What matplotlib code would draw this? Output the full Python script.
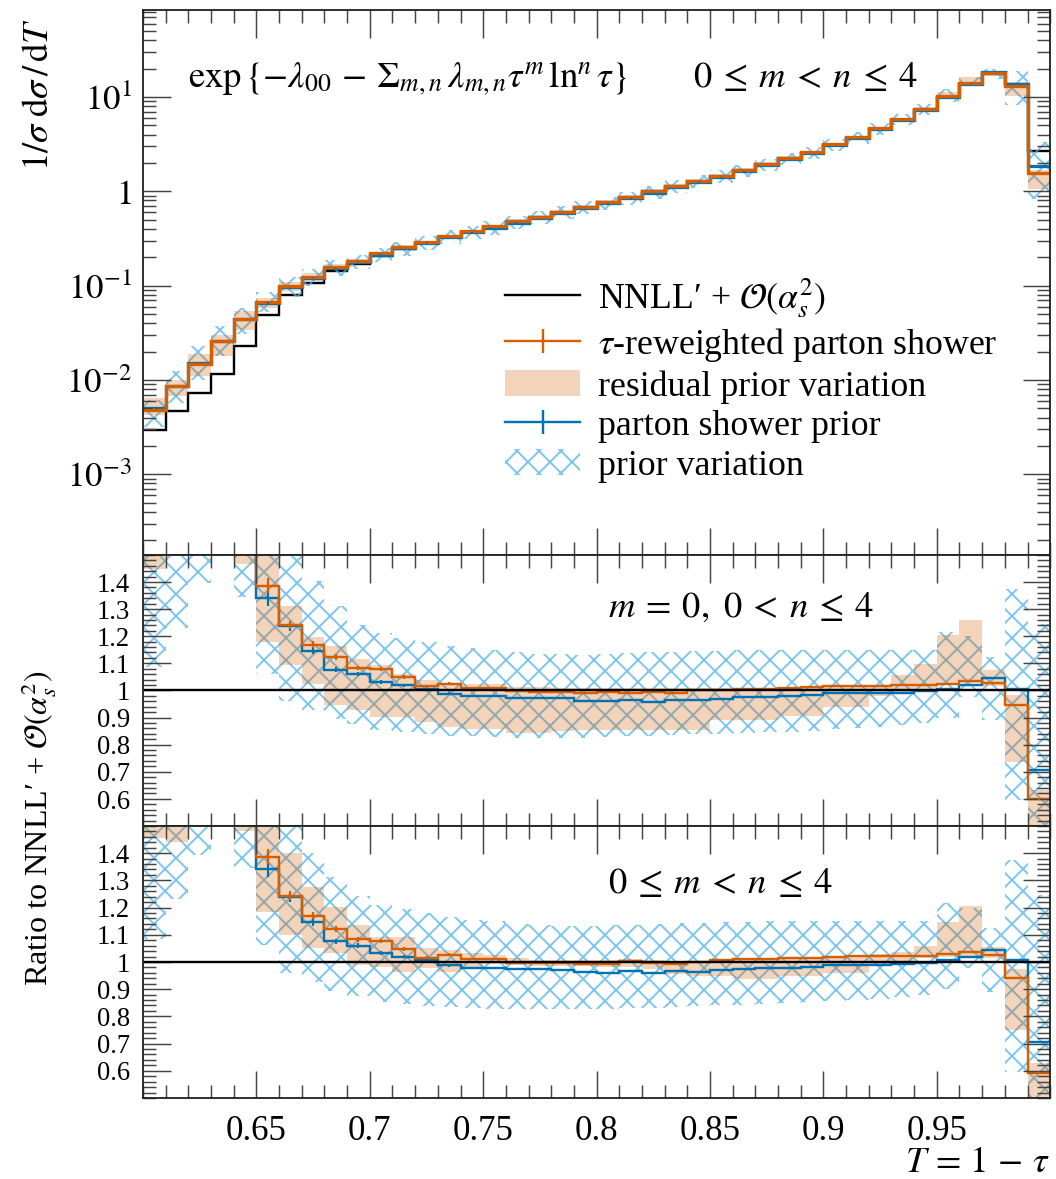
import numpy as np
import matplotlib
matplotlib.use("Agg")
import matplotlib.pyplot as plt
from matplotlib.lines import Line2D
from matplotlib.patches import Patch
from matplotlib.colors import to_rgba
from matplotlib.ticker import FixedLocator, MultipleLocator, LogLocator, NullFormatter

plt.rcParams['font.family'] = ['Liberation Serif', 'DejaVu Serif']
plt.rcParams['mathtext.fontset'] = 'stix'
plt.rcParams['hatch.linewidth'] = 1.1

# --- data: 40 bins of T = 1 - tau, width 0.01 ---
bin_edges = np.round(np.arange(0.60, 1.0001, 0.01), 2)

# NNLL' + O(alpha_s^2) prediction, 1/sigma dsigma/dT
nnll = [2.93e-3, 4.67e-3, 7.2e-3, 1.17e-2, 2.28e-2, 4.9e-2, 7.9e-2, 0.106, 0.142, 0.170,
        0.207, 0.245, 0.285, 0.33, 0.375, 0.42, 0.48, 0.54, 0.61, 0.69,
        0.775, 0.87, 1.0, 1.15, 1.29, 1.45, 1.67, 1.93, 2.23, 2.58,
        3.12, 3.70, 4.6, 5.72, 7.34, 9.9, 13.6, 17.6, 13.8, 2.65]

# parton shower prior, ratio to NNLL'
prior = [1.73, 1.84, 2.08, 2.2, 1.93, 1.34, 1.237, 1.146, 1.076, 1.06,
         1.032, 1.019, 1.006, 0.988, 0.979, 0.979, 0.973, 0.973, 0.971, 0.962,
         0.961, 0.965, 0.959, 0.966, 0.963, 0.969, 0.974, 0.977, 0.979, 0.983,
         0.989, 0.989, 0.99, 0.992, 0.997, 1.006, 1.02, 1.044, 1.006, 0.707]
prior_lo = [1.085, 1.23, 1.395, 1.53, 1.345, 1.062, 0.96, 0.927, 0.893, 0.875,
            0.854, 0.845, 0.838, 0.833, 0.83, 0.828, 0.826, 0.826, 0.826, 0.826,
            0.828, 0.83, 0.832, 0.835, 0.838, 0.84, 0.842, 0.845, 0.848, 0.852,
            0.856, 0.86, 0.865, 0.872, 0.88, 0.9, 0.977, 0.89, 0.595, 0.31]
prior_hi = [2.1, 2.65, 3.2, 3.2, 2.54, 1.77, 1.55, 1.402, 1.313, 1.243,
            1.21, 1.195, 1.18, 1.165, 1.155, 1.15, 1.14, 1.135, 1.133, 1.132,
            1.135, 1.137, 1.14, 1.142, 1.145, 1.147, 1.148, 1.15, 1.15, 1.15,
            1.15, 1.15, 1.15, 1.15, 1.15, 1.215, 1.2, 1.125, 1.375, 1.245]

# tau-reweighted shower, fit with m = 0, 0 < n <= 4
rw_m0 = [1.66, 1.84, 2.03, 2.2, 1.95, 1.386, 1.241, 1.168, 1.123, 1.083,
         1.078, 1.049, 1.015, 1.025, 1.010, 1.010, 0.998, 0.996, 0.996, 0.99,
         0.996, 0.99, 0.996, 0.99, 1.0, 1.003, 1.005, 1.007, 1.009, 1.011,
         1.015, 1.017, 1.018, 1.019, 1.02, 1.022, 1.033, 1.027, 0.945, 0.598]
rw_m0_lo = [1.447, 1.6, 1.7, 1.7, 1.466, 1.178, 1.092, 1.025, 0.945, 0.926,
            0.902, 0.902, 0.884, 0.865, 0.859, 0.859, 0.843, 0.843, 0.85, 0.855,
            0.855, 0.855, 0.855, 0.855, 0.855, 0.89, 0.892, 0.892, 0.904, 0.904,
            0.94, 0.94, 0.978, 0.996, 1.0, 1.027, 1.027, 1.015, 0.737, 0.40]
rw_m0_hi = [2.3, 2.4, 2.7, 2.7, 2.4, 1.55, 1.3125, 1.196, 1.165, 1.116,
            1.092, 1.061, 1.037, 1.025, 1.025, 1.025, 1.012, 1.012, 1.01, 1.01,
            1.01, 1.01, 1.01, 1.01, 1.008, 1.008, 1.008, 1.008, 1.01, 1.01,
            1.015, 1.015, 1.021, 1.058, 1.099, 1.203, 1.258, 1.075, 0.982, 0.632]

# tau-reweighted shower, fit with 0 <= m < n <= 4
rw_full = [1.66, 1.84, 2.03, 2.2, 1.95, 1.386, 1.243, 1.170, 1.122, 1.083,
           1.078, 1.048, 1.016, 1.026, 1.010, 1.012, 0.998, 0.995, 0.995, 0.994,
           0.994, 1.005, 0.997, 0.991, 1.0, 1.007, 1.01, 1.012, 1.013, 1.016,
           1.02, 1.022, 1.022, 1.022, 1.022, 1.028, 1.037, 1.025, 0.942, 0.593]
rw_full_lo = [1.456, 1.44, 1.52, 1.53, 1.48, 1.185, 1.099, 1.050, 1.032, 0.989,
              0.983, 0.964, 0.977, 0.964, 0.983, 0.993, 0.99, 0.985, 0.985, 0.985,
              0.982, 0.98, 0.975, 0.955, 0.949, 0.949, 0.936, 0.936, 0.949, 0.949,
              0.961, 0.961, 0.985, 0.998, 1.015, 1.018, 1.02, 1.016, 0.75, 0.40]
rw_full_hi = [2.2, 2.16, 2.6, 2.57, 2.35, 1.52, 1.40, 1.277, 1.201, 1.136,
              1.093, 1.093, 1.050, 1.044, 1.032, 1.026, 1.015, 1.008, 1.008, 1.008,
              1.008, 1.01, 1.008, 1.0, 1.004, 1.004, 1.01, 1.01, 1.016, 1.016,
              1.022, 1.022, 1.028, 1.035, 1.057, 1.148, 1.205, 1.055, 0.975, 0.629]

# relative statistical uncertainty of the shower samples
rel_err = [0.03, 0.03, 0.03, 0.025, 0.022, 0.02, 0.013, 0.011, 0.009, 0.008,
           0.007, 0.006, 0.005, 0.005, 0.004, 0.004, 0.004, 0.003, 0.003, 0.003,
           0.003, 0.003, 0.003, 0.003, 0.003, 0.003, 0.003, 0.003, 0.003, 0.003,
           0.003, 0.003, 0.003, 0.003, 0.003, 0.003, 0.003, 0.003, 0.003, 0.004]

orange = '#d55e00'
blue = '#0072b2'
sky = to_rgba('#56b4e9', 0.75)
band_alpha = 0.27

centers = 0.5 * (bin_edges[:-1] + bin_edges[1:])
nnll = np.array(nnll)
err = np.array(rel_err)

DPI = 132
fig = plt.figure(figsize=(1056.2 / DPI, 1179.2 / DPI), dpi=DPI)
L, W = 143 / 1056, 907 / 1056
ax_top = fig.add_axes([L, 1 - 555 / 1179, W, 545 / 1179])
ax_mid = fig.add_axes([L, 1 - 826 / 1179, W, 271 / 1179], sharex=ax_top)
ax_bot = fig.add_axes([L, 1 - 1098 / 1179, W, 272 / 1179], sharex=ax_top)

FS = 19


def draw(ax, scale, rw, rw_lo, rw_hi, lw):
    scale = np.asarray(scale)
    ax.stairs(np.array(prior_hi) * scale, bin_edges, baseline=np.array(prior_lo) * scale,
              fill=True, hatch='xx', facecolor='none', edgecolor=sky, lw=0)
    ax.stairs(np.array(rw_hi) * scale, bin_edges, baseline=np.array(rw_lo) * scale,
              fill=True, color=orange, alpha=band_alpha, lw=0)
    ax.stairs(np.array(prior) * scale, bin_edges, baseline=None, color=blue, lw=lw)
    ax.errorbar(centers, np.array(prior) * scale, yerr=err * np.array(prior) * scale,
                fmt='none', ecolor=blue, elinewidth=1.2)
    ax.stairs(np.array(rw) * scale, bin_edges, baseline=None, color=orange, lw=lw)
    ax.errorbar(centers, np.array(rw) * scale, yerr=err * np.array(rw) * scale,
                fmt='none', ecolor=orange, elinewidth=1.2)


# top panel: distributions
ax_top.stairs(nnll, bin_edges, baseline=None, color='k', lw=1.3)
draw(ax_top, nnll, rw_full, rw_full_lo, rw_full_hi, 1.8)
ax_top.set_yscale('log')
ax_top.set_ylim(1.4e-4, 84)
ax_top.yaxis.set_major_locator(FixedLocator([1e-3, 1e-2, 1e-1, 1, 10]))
ax_top.set_yticklabels([r'$10^{-3}$', r'$10^{-2}$', r'$10^{-1}$', r'$1$', r'$10^{1}$'])
ax_top.yaxis.set_minor_locator(LogLocator(base=10, subs=np.arange(2, 10), numticks=20))
ax_top.yaxis.set_minor_formatter(NullFormatter())

# ratio panels
draw(ax_mid, np.ones(40), rw_m0, rw_m0_lo, rw_m0_hi, 1.3)
draw(ax_bot, np.ones(40), rw_full, rw_full_lo, rw_full_hi, 1.3)
for ax in (ax_mid, ax_bot):
    ax.axhline(1.0, color='k', lw=1.3)
    ax.set_ylim(0.5, 1.5)
    yt = [0.6, 0.7, 0.8, 0.9, 1.0, 1.1, 1.2, 1.3, 1.4]
    ax.yaxis.set_major_locator(FixedLocator(yt))
    ax.set_yticklabels(['0.6', '0.7', '0.8', '0.9', '1', '1.1', '1.2', '1.3', '1.4'])
    ax.yaxis.set_minor_locator(MultipleLocator(0.02))

xt = [0.65, 0.7, 0.75, 0.8, 0.85, 0.9, 0.95]
for ax in (ax_top, ax_mid, ax_bot):
    ax.set_xlim(0.6, 1.0)
    ax.xaxis.set_major_locator(FixedLocator(xt))
    ax.xaxis.set_minor_locator(MultipleLocator(0.01))
    ax.tick_params(which='both', direction='in', top=True, right=True,
                   labelsize=FS, color='#444444', width=0.8)
    ax.tick_params(which='major', length=15)
    ax.tick_params(which='minor', length=7)
    ax.tick_params(axis='y', pad=6)
    ax.tick_params(axis='x', pad=9)
    for s in ax.spines.values():
        s.set_linewidth(1.0)
        s.set_color('#222222')
ax_top.tick_params(labelbottom=False)
ax_mid.tick_params(labelbottom=False)
ax_bot.set_xticklabels(['0.65', '0.7', '0.75', '0.8', '0.85', '0.9', '0.95'])
for ax in (ax_mid, ax_bot):
    ax.tick_params(axis='y', labelsize=14.5, pad=7)

# labels and annotations
fig.text(0.036, 1 - 18 / 1179, r'$1/\sigma\;\mathrm{d}\sigma\,/\,\mathrm{d}T$',
         rotation=90, ha='center', va='top', fontsize=FS + 1)
fig.text(0.036, 1 - 828 / 1179, "Ratio to NNLL\u2032 + $\\mathcal{O}(\\alpha_s^2)$",
         rotation=90, ha='center', va='center', fontsize=FS - 1.5)
fig.text(1050 / 1056, 1 - 1163 / 1179, r'$T\,=\,1\,-\,\tau$', ha='right', va='center',
         fontsize=FS + 1)

ANN = FS + 1
ax_top.text(0.05, 0.875,
            r'$\exp\{-\lambda_{00}\,-\,\Sigma_{m,n}\,\lambda_{m,n}\tau^m\,\ln^n\tau\}$',
            transform=ax_top.transAxes, ha='left', va='center', fontsize=ANN)
ax_top.text(0.606, 0.875, r'$0\:\leq\:m\:<\:n\:\leq\:4$', transform=ax_top.transAxes,
            ha='left', va='center', fontsize=ANN)
ax_mid.text(0.513, 0.808, r'$m\:=\:0,\ 0\:<\:n\:\leq\:4$', transform=ax_mid.transAxes,
            ha='left', va='center', fontsize=ANN)
ax_bot.text(0.513, 0.79, r'$0\:\leq\:m\:<\:n\:\leq\:4$', transform=ax_bot.transAxes,
            ha='left', va='center', fontsize=ANN)

handles = [
    Line2D([], [], color='k', lw=1.3),
    Line2D([], [], color=orange, lw=1.3, marker='|', ms=13, mew=1.3),
    Patch(facecolor=orange, alpha=band_alpha, lw=0),
    Line2D([], [], color=blue, lw=1.3, marker='|', ms=13, mew=1.3),
    Patch(facecolor='none', edgecolor=sky, hatch='xx', lw=0),
]
labels = ["NNLL\u2032 + $\\mathcal{O}(\\alpha_s^2)$",
          r"$\tau$-reweighted parton shower",
          "residual prior variation",
          "parton shower prior",
          "prior variation"]
ax_top.legend(handles, labels, loc='upper left', bbox_to_anchor=(0.399, 0.512),
              frameon=False, fontsize=FS + 0.5, handlelength=2.1, handleheight=0.75,
              handletextpad=0.5, labelspacing=0.17, borderaxespad=0, borderpad=0)

fig.savefig('out.png', dpi=DPI)
